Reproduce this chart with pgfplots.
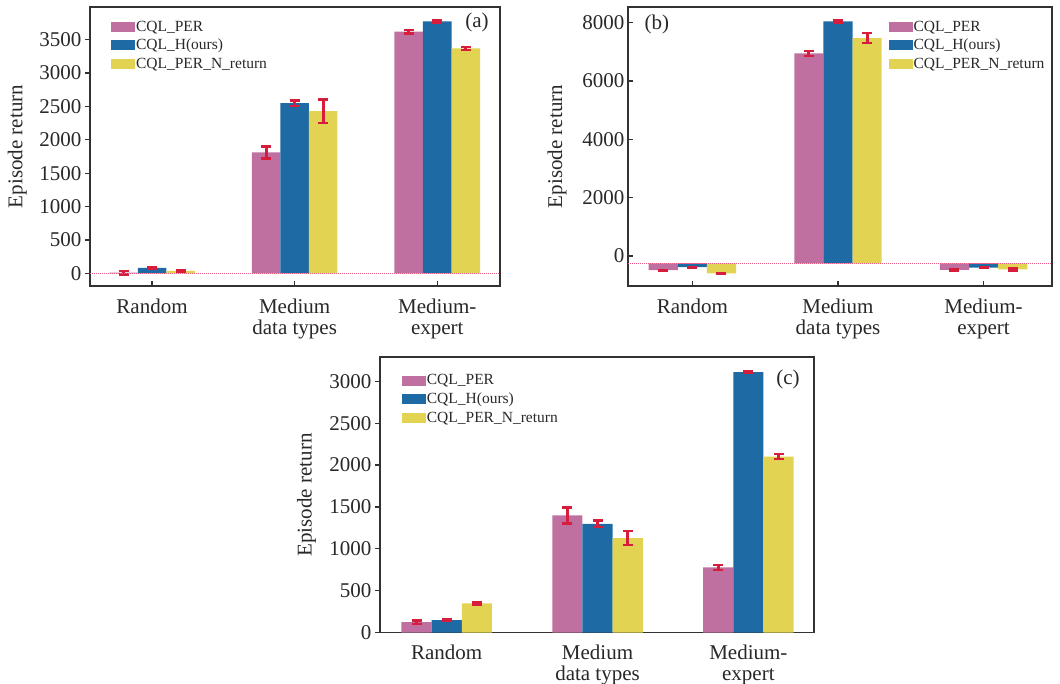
\documentclass[border=0pt]{standalone}
\usepackage{pgfplots}
\pgfplotsset{compat=1.18}
\usepackage{fontspec}
\setmainfont{Liberation Serif}
\definecolor{cpink}{RGB}{192,112,160}
\definecolor{cblue}{RGB}{30,106,164}
\definecolor{cyel}{RGB}{226,212,82}
\definecolor{cerr}{RGB}{214,30,60}
\definecolor{caxis}{RGB}{50,50,50}
\definecolor{ctext}{RGB}{40,40,40}
\definecolor{cdot}{RGB}{232,90,130}

\pgfplotsset{
 myaxis/.style={
  scale only axis,
  anchor=south west,
  ybar,
  bar width=0.2,
  axis line style={caxis, line width=1.4pt},
  xtick={0,1,2},
  xticklabels={Random,{Medium\\data types},{Medium-\\expert}},
  xtick pos=bottom, ytick pos=left,
  xtick align=inside,
  major tick length=5pt,
  tick style={caxis, line width=1.2pt},
  tick label style={font=\fontsize{21}{21}\selectfont, text=ctext},
  xticklabel style={align=center, yshift=-9pt},
  /pgf/number format/assume math mode=true,
  /pgf/number format/1000 sep={},
  ylabel={Episode return},
  every axis y label/.style={rotate=90, anchor=center, font=\fontsize{21}{21}\selectfont, text=ctext},
  legend cell align=left,
  legend style={draw=none, fill=none, font=\fontsize{15.5}{16}\selectfont, text=ctext, inner sep=0pt, row sep=4.7pt, anchor=north west, nodes={inner sep=1pt}},
  legend image code/.code={\fill[##1] (0pt,-5pt) rectangle (24pt,5pt);},
  error bars/y dir=both, error bars/y explicit,
  error bars/error bar style={cerr, line width=3pt},
  error bars/error mark options={cerr, rotate=90, mark size=5pt, line width=2.4pt},
 },
 pinkbar/.style={fill=cpink, draw=none, bar shift=-0.2},
 bluebar/.style={fill=cblue, draw=none, bar shift=0},
 yelbar/.style={fill=cyel, draw=none, bar shift=0.2},
}

\pgfplotstableread{
x pink perr blue berr yel yerr
0 10 25 80 15 35 12
1 1810 90 2550 40 2430 175
2 3620 25 3775 15 3370 25
}\dataA
\pgfplotstableread{
x pink perr blue berr yel yerr
0 -490 15 -385 15 -595 15
1 6950 90 8050 40 7470 170
2 -480 30 -400 20 -460 35
}\dataB
\pgfplotstableread{
x pink perr blue berr yel yerr
0 125 20 150 10 350 12
1 1400 95 1300 40 1130 80
2 780 30 3110 10 2100 30
}\dataC

\begin{document}
\begin{tikzpicture}
\useasboundingbox (0pt,0pt) rectangle (1060pt,684pt);

% (a)
\begin{axis}[myaxis, at={(90pt,398pt)}, width=410pt, height=279pt,
  xmin=-0.435, xmax=2.44, ymin=-190, ymax=3990,
  ytick={0,500,...,3500}, ytick align=outside,
  ylabel style={at={(axis description cs:-0.177,0.5)}},
  legend style={at={(0.051,0.955)}}]
\addplot[pinkbar] table[x=x, y=pink, y error=perr] {\dataA};
\addplot[bluebar] table[x=x, y=blue, y error=berr] {\dataA};
\addplot[yelbar] table[x=x, y=yel, y error=yerr] {\dataA};
\legend{CQL\_PER, CQL\_H(ours), CQL\_PER\_N\_return}
\draw[cdot, densely dotted, line width=1pt] ({rel axis cs:0,0} |- {axis cs:0,0}) -- ({rel axis cs:1,0} |- {axis cs:0,0});
\node[font=\fontsize{21}{21}\selectfont, text=ctext] at (rel axis cs:0.944,0.943) {(a)};
\end{axis}

% (b)
\begin{axis}[myaxis, at={(628pt,398pt)}, width=424pt, height=279pt,
  xmin=-0.442, xmax=2.47, ymin=-780, ymax=8790,
  y filter/.expression={y+250},
  ytick={250,2250,4250,6250,8250}, yticklabels={0,2000,4000,6000,8000}, ytick align=inside,
  ylabel style={at={(axis description cs:-0.167,0.5)}},
  legend style={at={(0.614,0.955)}}]
\addplot[pinkbar] table[x=x, y=pink, y error=perr] {\dataB};
\addplot[bluebar] table[x=x, y=blue, y error=berr] {\dataB};
\addplot[yelbar] table[x=x, y=yel, y error=yerr] {\dataB};
\legend{CQL\_PER, CQL\_H(ours), CQL\_PER\_N\_return}
\draw[cdot, densely dotted, line width=1pt] ({rel axis cs:0,0} |- {axis cs:0,0}) -- ({rel axis cs:1,0} |- {axis cs:0,0});
\node[font=\fontsize{21}{21}\selectfont, text=ctext] at (rel axis cs:0.068,0.939) {(b)};
\end{axis}

% (c)
\begin{axis}[myaxis, at={(380pt,51.3pt)}, width=434pt, height=275.7pt,
  xmin=-0.442, xmax=2.435, ymin=0, ymax=3290,
  ytick={0,500,...,3000}, ytick align=outside,
  ylabel style={at={(axis description cs:-0.169,0.5)}},
  legend style={at={(0.05,0.94)}}]
\addplot[pinkbar] table[x=x, y=pink, y error=perr] {\dataC};
\addplot[bluebar] table[x=x, y=blue, y error=berr] {\dataC};
\addplot[yelbar] table[x=x, y=yel, y error=yerr] {\dataC};
\legend{CQL\_PER, CQL\_H(ours), CQL\_PER\_N\_return}
\node[font=\fontsize{21}{21}\selectfont, text=ctext] at (rel axis cs:0.94,0.92) {(c)};
\end{axis}
\end{tikzpicture}
\end{document}
